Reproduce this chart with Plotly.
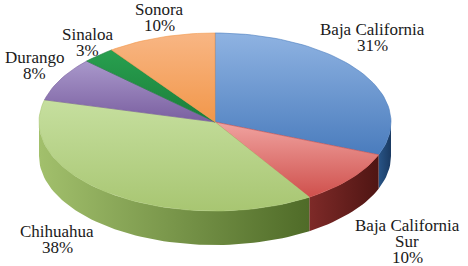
import numpy as np
import plotly.graph_objects as go

# ---- data ----
states = ["Baja California", "Baja California Sur", "Chihuahua", "Durango", "Sinaloa", "Sonora"]
shares = [31, 10, 38, 8, 3, 10]
label_names = ["Baja California", "Baja California<br>Sur", "Chihuahua", "Durango", "Sinaloa", "Sonora"]

# ---- styles ----
top_colors = {  # (top/light, bottom/dark)
    "Baja California": ("#8FB3E2", "#4A7CBD"),
    "Baja California Sur": ("#F0A3A0", "#CF504C"),
    "Chihuahua": ("#C6DF9F", "#A8C672"),
    "Durango": ("#A998CB", "#7A5FA0"),
    "Sinaloa": ("#28A04F", "#1B7D3A"),
    "Sonora": ("#F8B684", "#F2974A"),
}
side_colors = {  # (left/light, right/dark)
    "Baja California": ("#285486", "#1A3A62"),
    "Baja California Sur": ("#7E2A28", "#4F1513"),
    "Chihuahua": ("#A2C06C", "#4F6B28"),
    "Durango": ("#6A5090", "#4A3570"),
    "Sinaloa": ("#1E7E3C", "#145A2A"),
    "Sonora": ("#D27A35", "#A85A20"),
}
label_pos = {  # centre of first line, pixels
    "Baja California": (372, 29),
    "Baja California Sur": (407, 225),
    "Chihuahua": (57, 231),
    "Durango": (34, 57),
    "Sinaloa": (87, 34),
    "Sonora": (159, 9),
}
W, H = 468, 266
cx, cy, rx, ry, depth = 215, 122, 176, 89, 34
line_gap = 16
font = dict(family="Liberation Serif", size=17, color="#1a1a1a")


def arc(a, b, dy=0.0):
    n = max(3, int(abs(b - a) / 2) + 2)
    t = np.radians(np.linspace(a, b, n))
    return cx + rx * np.sin(t), cy - ry * np.cos(t) + dy


fig = go.Figure()
total = float(sum(shares))
bounds = np.concatenate([[0.0], np.cumsum(shares) / total * 360.0])

# side faces (front half only)
for i, name in enumerate(states):
    a, b = bounds[i], bounds[i + 1]
    s, e = max(a, 90.0), min(b, 270.0)
    if e <= s:
        continue
    x1, y1 = arc(s, e)
    x2, y2 = arc(e, s, depth)
    xs = np.concatenate([x1, x2, x1[:1]])
    ys = np.concatenate([y1, y2, y1[:1]])
    c0, c1 = side_colors[name]
    fig.add_trace(go.Scatter(
        x=xs, y=ys, mode="lines", fill="toself", line=dict(width=0),
        fillgradient=dict(type="horizontal", colorscale=[[0, c0], [1, c1]]),
        hoverinfo="skip", showlegend=False))

# top faces (y axis is reversed, so scale 0 = bottom of slice)
for i, name in enumerate(states):
    a, b = bounds[i], bounds[i + 1]
    xa, ya = arc(a, b)
    xs = np.concatenate([[cx], xa, [cx]])
    ys = np.concatenate([[cy], ya, [cy]])
    c0, c1 = top_colors[name]
    fig.add_trace(go.Scatter(
        x=xs, y=ys, mode="lines", fill="toself", line=dict(width=0.6, color=c1),
        fillgradient=dict(type="vertical", colorscale=[[0, c1], [1, c0]]),
        hoverinfo="skip", showlegend=False))

# labels
for name, share, lab in zip(states, shares, label_names):
    lines = lab.split("<br>") + [f"{share}%"]
    x0, y0 = label_pos[name]
    for k, txt in enumerate(lines):
        fig.add_annotation(x=x0, y=y0 + k * line_gap, text=txt, showarrow=False,
                           xanchor="center", yanchor="middle", font=font)

fig.update_xaxes(range=[0, W], visible=False, fixedrange=True)
fig.update_yaxes(range=[H, 0], visible=False, fixedrange=True)
fig.update_layout(width=W, height=H, margin=dict(l=0, r=0, t=0, b=0),
                  paper_bgcolor="white", plot_bgcolor="white", showlegend=False)
fig.write_html("out.html", config={"displayModeBar": False},
               post_script="document.body.style.margin='0';document.body.style.padding='0';")
